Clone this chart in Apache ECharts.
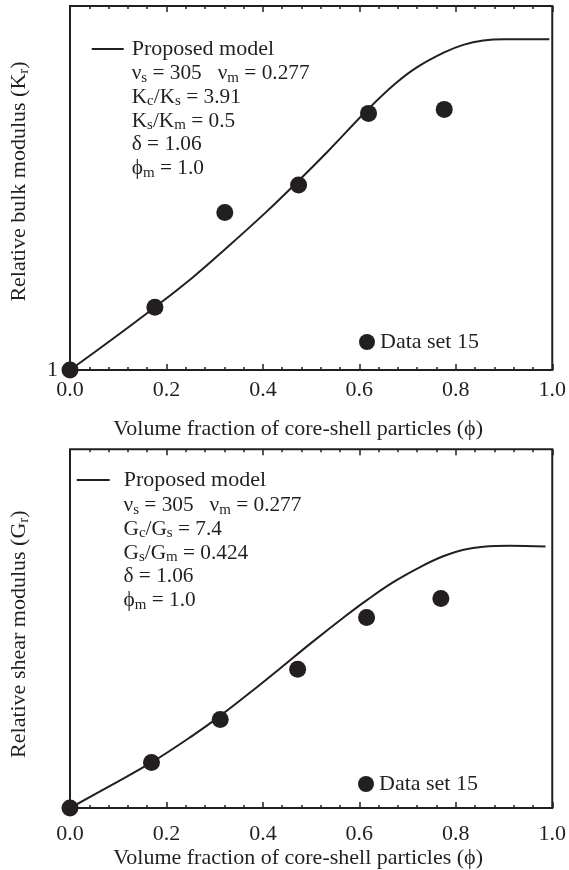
<!DOCTYPE html>
<html>
<head>
<meta charset="utf-8">
<script src="https://cdn.jsdelivr.net/npm/echarts@6/dist/echarts.min.js"></script>
<style>
  html, body { margin: 0; padding: 0; background: #ffffff; }
  #chart { width: 569px; height: 870px; }
</style>
</head>
<body>
<div id="chart"></div>
<script>
// Relative bulk (K_r) and shear (G_r) moduli versus volume fraction of core-shell particles

// x-axis tick labels
const phiTickLabels = ['0.0', '0.2', '0.4', '0.6', '0.8', '1.0'];

// Bulk modulus: proposed model curve
const bulkModelPhi = [0, 0.084, 0.176, 0.255, 0.321, 0.406, 0.474, 0.536, 0.619, 0.673, 0.72, 0.776, 0.817, 0.857, 0.9, 0.95, 0.994];
const bulkModelKr  = [1.000, 1.162, 1.345, 1.510, 1.662, 1.866, 2.040, 2.205, 2.435, 2.570, 2.664, 2.745, 2.788, 2.810, 2.817, 2.817, 2.817];
// Bulk modulus: data set 15
const bulkDataPhi = [0, 0.176, 0.321, 0.474, 0.619, 0.776];
const bulkDataKr  = [1.000, 1.345, 1.866, 2.016, 2.410, 2.432];

// Shear modulus: proposed model curve
const shearModelPhi = [0, 0.084, 0.169, 0.255, 0.312, 0.392, 0.433, 0.501, 0.570, 0.615, 0.672, 0.727, 0.775, 0.816, 0.857, 0.912, 0.986];
const shearModelGr  = [1.000, 1.125, 1.254, 1.405, 1.515, 1.683, 1.772, 1.922, 2.068, 2.158, 2.262, 2.345, 2.405, 2.440, 2.457, 2.462, 2.458];
// Shear modulus: data set 15
const shearDataPhi = [0, 0.169, 0.3115, 0.472, 0.615, 0.769];
const shearDataGr  = [1.000, 1.254, 1.494, 1.773, 2.062, 2.168];

// Model parameter annotations (rich text: a = normal, b = subscript)
const bulkParams = [
  '{a|ν}{b|s}{a| = 305   ν}{b|m}{a| = 0.277}',
  '{a|K}{b|c}{a|/K}{b|s}{a| = 3.91}',
  '{a|K}{b|s}{a|/K}{b|m}{a| = 0.5}',
  '{a|δ = 1.06}',
  '{a|ϕ}{b|m}{a| = 1.0}'
];
const shearParams = [
  '{a|ν}{b|s}{a| = 305   ν}{b|m}{a| = 0.277}',
  '{a|G}{b|c}{a|/G}{b|s}{a| = 7.4}',
  '{a|G}{b|s}{a|/G}{b|m}{a| = 0.424}',
  '{a|δ = 1.06}',
  '{a|ϕ}{b|m}{a| = 1.0}'
];

const INK = '#231f20';
const FONT = "'Liberation Serif', 'DejaVu Serif', serif";
const FS = 22;      // titles, legend, tick labels
const FS_P = 21.3;  // parameter block
const FS_SUB = 15;  // subscripts

const zip = (xs, ys) => xs.map((x, i) => [x, ys[i]]);

const richLabel = {
  a: { fontFamily: FONT, fontSize: FS, color: INK, lineHeight: 26 },
  b: { fontFamily: FONT, fontSize: FS_SUB, color: INK, lineHeight: 13, verticalAlign: 'bottom' }
};
const richGraphic = {
  a: { fontFamily: FONT, fontSize: FS_P, fill: INK, lineHeight: 23.7 },
  b: { fontFamily: FONT, fontSize: FS_SUB, fill: INK, lineHeight: 11, verticalAlign: 'bottom' }
};

function xAxes(gridIndex, labelMargin, nameGap) {
  const tick = { inside: true, length: 6, lineStyle: { color: INK, width: 1.5 } };
  const minor = { show: true, splitNumber: 5, length: 3, lineStyle: { color: INK, width: 1.5 } };
  return [
    {
      type: 'value', gridIndex, position: 'bottom', min: 0, max: 1, interval: 0.2,
      name: 'Volume fraction of core-shell particles (ϕ)',
      nameLocation: 'middle', nameGap,
      nameTextStyle: { fontFamily: FONT, fontSize: FS, color: INK, padding: [0, 26, 0, 0] },
      axisLine: { show: false }, splitLine: { show: false },
      axisTick: tick, minorTick: minor,
      axisLabel: {
        margin: labelMargin, fontFamily: FONT, fontSize: FS, color: INK,
        formatter: v => phiTickLabels[Math.round(v / 0.2)]
      }
    },
    {
      type: 'value', gridIndex, position: 'top', min: 0, max: 1, interval: 0.2,
      axisLine: { show: false }, splitLine: { show: false },
      axisTick: tick, minorTick: minor,
      axisLabel: { show: false }
    }
  ];
}

function yAxis(gridIndex, name, showOne, namePadding) {
  return {
    type: 'value', gridIndex, min: 1, max: 3, interval: 2,
    name, nameLocation: 'middle', nameGap: 38,
    nameTextStyle: { rich: richLabel, padding: namePadding },
    axisLine: { show: false }, axisTick: { show: false }, splitLine: { show: false },
    axisLabel: {
      show: showOne, margin: 12, fontFamily: FONT, fontSize: FS, color: INK,
      formatter: v => (v === 1 ? '1' : '')
    }
  };
}

const legendText = (padLeft) => ({ fontFamily: FONT, fontSize: FS, color: INK, lineHeight: 22, padding: [0, 0, 0, padLeft] });

const option = {
  backgroundColor: '#ffffff',
  animation: false,
  grid: [
    { left: 69.3, top: 6, width: 487.2, height: 364, show: true, borderColor: INK, borderWidth: 2 },
    { left: 69.3, top: 449.3, width: 487, height: 362.4, show: true, borderColor: INK, borderWidth: 2 }
  ],
  xAxis: [...xAxes(0, 9, 48), ...xAxes(1, 15, 39)],
  yAxis: [
    yAxis(0, '{a|Relative bulk modulus (K}{b|r}{a|)}', true, [0, 0, 0, 13]),
    yAxis(1, '{a|Relative shear modulus (G}{b|r}{a|)}', false, [0, 11, 0, 0])
  ],
  legend: [
    { data: [{ name: 'Proposed model', icon: 'rect' }], left: 91.7, top: 38, padding: 0,
      itemWidth: 32, itemHeight: 2, selectedMode: false, textStyle: legendText(3) },
    { data: [{ name: 'Data set 15', icon: 'circle' }], left: 359, top: 331, padding: 0,
      itemWidth: 16, itemHeight: 16, selectedMode: false, textStyle: legendText(0) },
    { data: [{ name: 'Proposed model', icon: 'rect' }], left: 76.7, top: 469, padding: 0,
      itemWidth: 33, itemHeight: 2, selectedMode: false, textStyle: legendText(9) },
    { data: [{ name: 'Data set 15', icon: 'circle' }], left: 358, top: 773, padding: 0,
      itemWidth: 16, itemHeight: 16, selectedMode: false, textStyle: legendText(0) }
  ],
  graphic: [
    { type: 'text', left: 131.7, top: 63, style: { text: bulkParams.join('\n'), rich: richGraphic, fill: INK } },
    { type: 'text', left: 123.5, top: 495, style: { text: shearParams.join('\n'), rich: richGraphic, fill: INK } }
  ],
  series: [
    { name: 'Proposed model', type: 'line', xAxisIndex: 0, yAxisIndex: 0,
      data: zip(bulkModelPhi, bulkModelKr), symbol: 'none', smooth: 0.4,
      color: INK, lineStyle: { color: INK, width: 2 }, z: 2 },
    { name: 'Data set 15', type: 'scatter', xAxisIndex: 0, yAxisIndex: 0,
      data: zip(bulkDataPhi, bulkDataKr), symbolSize: 17,
      color: INK, itemStyle: { color: INK, opacity: 1 }, z: 3 },
    { name: 'Proposed model', type: 'line', xAxisIndex: 2, yAxisIndex: 1,
      data: zip(shearModelPhi, shearModelGr), symbol: 'none', smooth: 0.4,
      color: INK, lineStyle: { color: INK, width: 2 }, z: 2 },
    { name: 'Data set 15', type: 'scatter', xAxisIndex: 2, yAxisIndex: 1,
      data: zip(shearDataPhi, shearDataGr), symbolSize: 17,
      color: INK, itemStyle: { color: INK, opacity: 1 }, z: 3 }
  ]
};

const chart = echarts.init(document.getElementById('chart'), null, { renderer: 'canvas' });
chart.setOption(option);
</script>
</body>
</html>
